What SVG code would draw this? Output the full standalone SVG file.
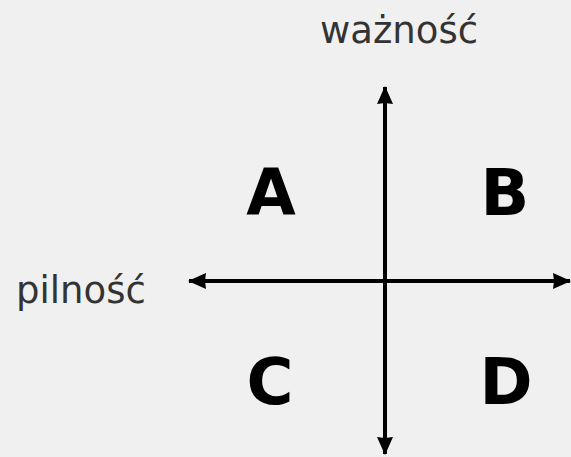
<svg xmlns="http://www.w3.org/2000/svg" width="571" height="457" viewBox="0 0 571 457">
<style>
.lbl{font-family:"DejaVu Sans",Verdana,sans-serif;font-size:37px;fill:#333}
.q{font-family:"DejaVu Sans",Verdana,sans-serif;font-weight:bold;font-size:64px;fill:#000;text-anchor:middle}
.ax{stroke:#000;stroke-width:4;fill:none}
</style>
<defs>
<marker id="ah" markerUnits="userSpaceOnUse" viewBox="0 0 18 18" refX="17" refY="9" markerWidth="18" markerHeight="18" orient="auto-start-reverse">
<path d="M0,1 L18,9 L0,17 L1,9 Z" fill="#000"/>
</marker>
</defs>
<rect width="571" height="457" fill="#f0f0f0"/>
<g id="connectors">
<line class="ax" x1="385" y1="87" x2="385" y2="454" marker-start="url(#ah)" marker-end="url(#ah)"/>
<line class="ax" x1="189" y1="281" x2="570" y2="281" marker-start="url(#ah)" marker-end="url(#ah)"/>
</g>
<g id="label-waznosc"><text class="lbl" x="399" y="43" text-anchor="middle">ważność</text></g>
<g id="label-pilnosc"><text class="lbl" x="16" y="303">pilność</text></g>
<g id="A"><text class="q" x="271" y="215">A</text></g>
<g id="B"><text class="q" x="505" y="215">B</text></g>
<g id="C"><text class="q" x="270" y="404">C</text></g>
<g id="D"><text class="q" x="506" y="404">D</text></g>
</svg>
